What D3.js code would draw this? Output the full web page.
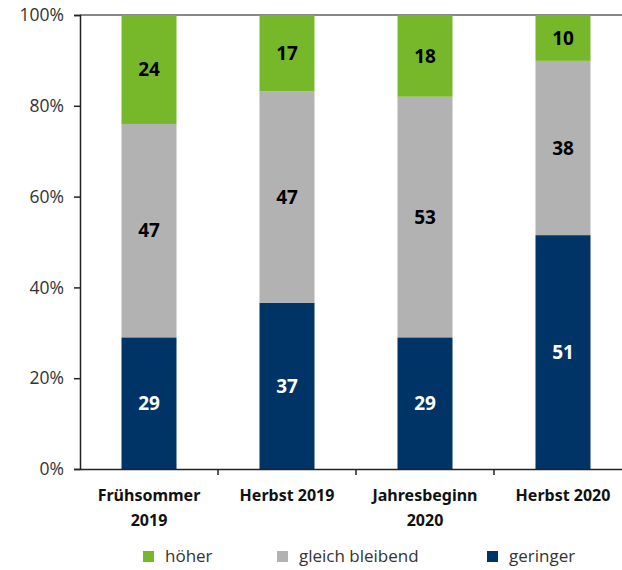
<!DOCTYPE html>
<html><head><meta charset="utf-8">
<script src="https://cdn.jsdelivr.net/npm/d3@7"></script>
<style>body{margin:0;background:#fff}svg{display:block}</style>
</head><body>
<svg id="c" width="622" height="570"></svg>
<script>
const categories = [["Frühsommer","2019"],["Herbst 2019"],["Jahresbeginn","2020"],["Herbst 2020"]];
const geringer = [29,37,29,51];
const gleich = [47,47,53,38];
const hoeher = [24,17,18,10];
const yTicks = [0,20,40,60,80,100];
const seriesNames = ["geringer","gleich bleibend","höher"];
const colors = {"geringer":"#003366","gleich bleibend":"#b2b2b3","höher":"#77b82a"};
const labelColors = {"geringer":"#fff","gleich bleibend":"#000","höher":"#000"};

(function(){
const svg = d3.select("#c");
const mLeft = 80, mRight = 632, mTop = 15, mBottom = 469;
const x = d3.scaleBand().domain(d3.range(categories.length)).range([mLeft,mRight]).paddingInner(0).paddingOuter(0);
const y = d3.scaleLinear().domain([0,100]).range([mBottom,mTop]);

const rows = categories.map((c,i)=>{
  const vals = [geringer[i],gleich[i],hoeher[i]];
  const sum = d3.sum(vals);
  return {i, vals, sum};
});
const barW = 55;

svg.append("line").attr("x1",mLeft).attr("x2",622).attr("y1",y(100)).attr("y2",y(100))
  .attr("stroke","#888").attr("stroke-width",2);

rows.forEach(r=>{
  let acc = 0;
  r.vals.forEach((v,k)=>{
    const p0 = acc/r.sum*100, p1 = (acc+v)/r.sum*100;
    acc += v;
    const name = seriesNames[k];
    const cx = x(r.i)+x.bandwidth()/2;
    svg.append("rect").attr("x",cx-barW/2).attr("width",barW)
      .attr("y",y(p1)).attr("height",y(p0)-y(p1)).attr("fill",colors[name]);
    svg.append("text").attr("x",cx).attr("y",(y(p0)+y(p1))/2).attr("dy","0.36em")
      .attr("text-anchor","middle").attr("font-family","'Noto Sans', sans-serif")
      .attr("font-weight","bold").attr("font-size",19).attr("fill",labelColors[name]).text(v);
  });
});

const ya = svg.append("g").attr("transform",`translate(${mLeft},0)`)
  .call(d3.axisLeft(y).tickValues(yTicks).tickSize(6).tickPadding(10).tickFormat(d=>d+"%"));
ya.select(".domain").attr("stroke","#222").attr("stroke-width",1.5);
ya.selectAll(".tick line").attr("stroke","#222").attr("stroke-width",1.5);
ya.selectAll("text").attr("font-family","'Open Sans', sans-serif").attr("font-weight",400)
  .attr("font-size",17.5).attr("fill","#333");

const xa = svg.append("g").attr("transform",`translate(0,${mBottom})`)
  .call(d3.axisBottom(x).tickValues([]).tickSizeOuter(0));
xa.select(".domain").attr("stroke","#222").attr("stroke-width",1.5);
x.domain().forEach(i=>{
  if(i>0) svg.append("line").attr("x1",x(i)).attr("x2",x(i)).attr("y1",mBottom).attr("y2",mBottom+6)
    .attr("stroke","#222").attr("stroke-width",1.5);
});
categories.forEach((c,i)=>{
  const t = svg.append("text").attr("x",x(i)+x.bandwidth()/2).attr("y",501)
    .attr("text-anchor","middle").attr("font-family","'Noto Sans', sans-serif")
    .attr("font-weight","bold").attr("font-size",16).attr("fill","#111");
  c.forEach((line,j)=>t.append("tspan").attr("x",x(i)+x.bandwidth()/2).attr("dy",j?25:0).text(line));
});

const legend = [["höher",143],["gleich bleibend",277],["geringer",487]];
legend.forEach(([name,lx])=>{
  svg.append("rect").attr("x",lx).attr("y",551).attr("width",11).attr("height",11).attr("fill",colors[name]);
  svg.append("text").attr("x",lx+22).attr("y",562).attr("font-family","'Open Sans', sans-serif")
    .attr("font-size",17).attr("fill","#333").text(name);
});
})();
</script>
</body></html>
